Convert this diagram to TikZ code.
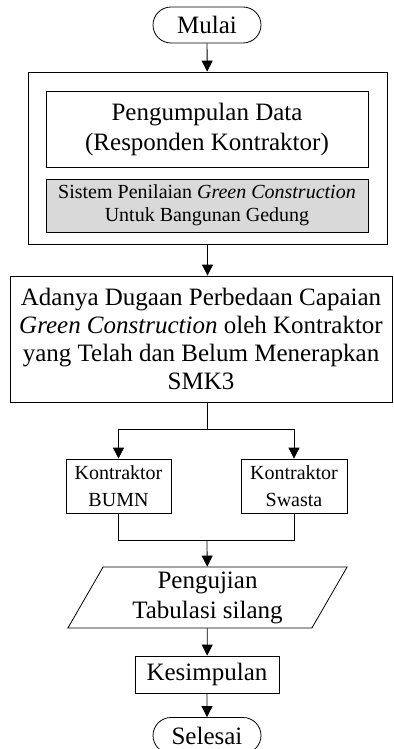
\documentclass[tikz,border=0pt]{standalone}
\usepackage{fontspec}
\setmainfont{Liberation Serif}
\usepackage{tikz}
\usetikzlibrary{arrows.meta, positioning, shapes.misc, shapes.geometric}
\definecolor{boxgray}{RGB}{217,217,217}
\tikzset{terminal/.style={rounded rectangle, draw, thin, minimum width=54pt, minimum height=18pt, inner sep=0pt, font=\fontsize{12.5}{15}\selectfont},
process/.style={rectangle, draw, thin, inner sep=0pt, align=center},
bigtext/.style={font=\fontsize{12.5}{15}\selectfont},
smalltext/.style={font=\fontsize{10}{11.5}\selectfont},
arr/.style={-{Triangle[length=5.5pt,width=5.5pt]}, thin}}

\begin{document}
\begin{tikzpicture}[x=0.5pt, y=-0.5pt]
 \useasboundingbox (0,0) rectangle (393,749);

 %Start and data collection
 \node[terminal] (mulai) at (207,25) {Mulai};
 \node[process, minimum width=179.5pt, minimum height=86pt] (outer) at (207.5,158) {};
 \node[process, bigtext, minimum width=161pt, minimum height=38pt] (data) at (207,129) {Pengumpulan Data\\(Responden Kontraktor)};
 \node[process, smalltext, fill=boxgray, minimum width=161pt, minimum height=26.5pt] (sistem) at (207,205.5) {Sistem Penilaian \textit{Green Construction}\\Untuk Bangunan Gedung};

 %Hypothesis
 \node[process, font=\fontsize{12.5}{13.9}\selectfont, minimum width=191pt, minimum height=63pt] (dugaan) at (201,339) {Adanya Dugaan Perbedaan Capaian\\\textit{Green Construction} oleh Kontraktor\\yang Telah dan Belum Menerapkan\\SMK3};

 %Two groups
 \node[process, font=\fontsize{10}{13.5}\selectfont, minimum width=52.5pt, minimum height=27pt] (bumn) at (118.5,486) {Kontraktor\\BUMN};
 \node[process, font=\fontsize{10}{13.5}\selectfont, minimum width=53pt, minimum height=27pt] (swasta) at (294,486) {Kontraktor\\Swasta};
 \coordinate (split) at (207,429);
 \coordinate (join) at (207,540);

 %Test, conclusion, end
 \node[trapezium, draw, thin, trapezium left angle=64, trapezium right angle=116, trapezium stretches=true, minimum width=140.5pt, minimum height=30.5pt, inner sep=0pt, align=center, bigtext] (uji) at (207.5,597.5) {Pengujian\\Tabulasi silang};
 \node[process, bigtext, minimum width=72pt, minimum height=18.5pt] (kesimpulan) at (207,674.5) {Kesimpulan};
 \node[terminal] (selesai) at (207,735.5) {Selesai};

 \draw[arr] (mulai) -- (outer);
 \draw[arr] (outer) -- (outer |- dugaan.north);
 \draw[thin] (dugaan.south -| split) -- (split);
 \draw[arr] (split) -| (bumn.north);
 \draw[arr] (split) -| (swasta.north);
 \draw[thin] (bumn.south) |- (join);
 \draw[thin] (swasta.south) |- (join);
 \draw[arr] (join) -- (uji);
 \draw[arr] (uji) -- (kesimpulan);
 \draw[arr] (kesimpulan) -- (selesai);

\end{tikzpicture}
\end{document}
